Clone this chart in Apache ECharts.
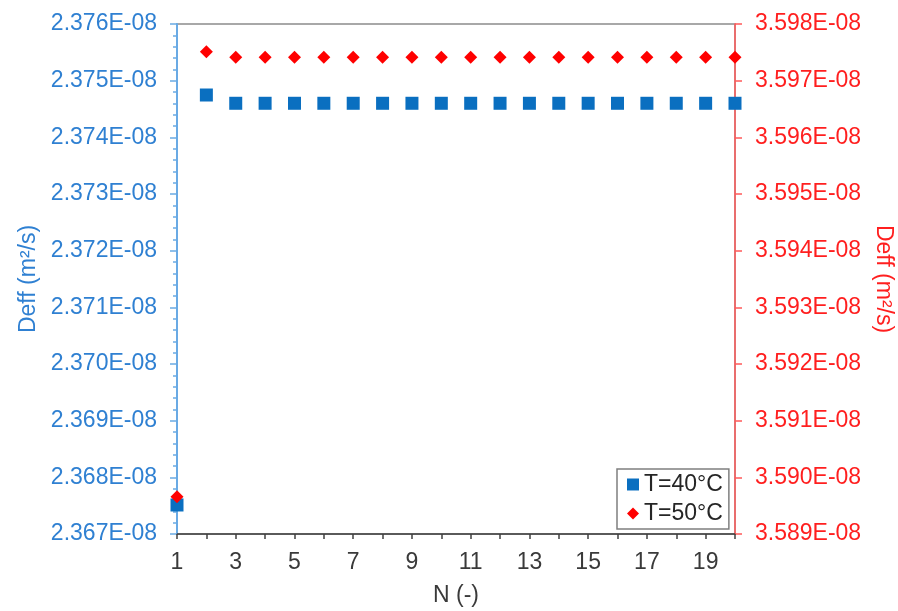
<!DOCTYPE html>
<html>
<head>
<meta charset="utf-8">
<script src="https://cdn.jsdelivr.net/npm/echarts@6/dist/echarts.min.js"></script>
<style>
  html, body { margin: 0; padding: 0; background: #ffffff; }
  #chart { width: 898px; height: 611px; }
</style>
</head>
<body>
<div id="chart"></div>
<script>
// Number of terms N in the series solution
const nTerms = [1, 2, 3, 4, 5, 6, 7, 8, 9, 10, 11, 12, 13, 14, 15, 16, 17, 18, 19, 20];

// Effective diffusivity (m²/s) at 40 °C (left axis)
const deff40 = [
  2.367512e-8, 2.374747e-8, 2.374601e-8, 2.374601e-8, 2.374601e-8,
  2.374601e-8, 2.374601e-8, 2.374601e-8, 2.374601e-8, 2.374601e-8,
  2.374601e-8, 2.374601e-8, 2.374601e-8, 2.374601e-8, 2.374601e-8,
  2.374601e-8, 2.374601e-8, 2.374601e-8, 2.374601e-8, 2.374601e-8
];

// Effective diffusivity (m²/s) at 50 °C (right axis)
const deff50 = [
  3.589659e-8, 3.597511e-8, 3.597412e-8, 3.597412e-8, 3.597412e-8,
  3.597412e-8, 3.597412e-8, 3.597412e-8, 3.597412e-8, 3.597412e-8,
  3.597412e-8, 3.597412e-8, 3.597412e-8, 3.597412e-8, 3.597412e-8,
  3.597412e-8, 3.597412e-8, 3.597412e-8, 3.597412e-8, 3.597412e-8
];

const seriesNames = ['T=40°C', 'T=50°C'];
const leftRange = [2.367e-8, 2.376e-8];
const rightRange = [3.589e-8, 3.598e-8];
const yStep = 1e-11;

// Excel-style scientific label, e.g. 2.376E-08
function sci(v) {
  const s = v.toExponential(3).toUpperCase();
  const [m, e] = s.split('E');
  const sign = e[0] === '-' ? '-' : '+';
  const digits = e.replace(/[-+]/, '').padStart(2, '0');
  return m + 'E' + sign + digits;
}

const font = '"Liberation Sans", Arial, sans-serif';
const fs = 23;
const blueText = '#2f80d2';
const blueLine = '#6aaae4';
const redText = '#ff1f1f';
const redLine = '#ff5a5a';
const grayText = '#3a3a3a';

const chart = echarts.init(document.getElementById('chart'), null, { renderer: 'canvas' });

chart.setOption({
  backgroundColor: '#ffffff',
  animation: false,
  textStyle: { fontFamily: font },
  grid: {
    left: 177, right: 163, top: 24, bottom: 77,
    outerBoundsMode: 'none',
    containLabel: false,
    show: true, borderColor: '#8c8c8c', borderWidth: 1.5, backgroundColor: 'transparent'
  },
  legend: {
    orient: 'vertical',
    left: 617, top: 469,
    padding: [4, 6, 4, 10],
    itemGap: 6,
    itemWidth: 12, itemHeight: 12,
    borderColor: '#7f7f7f', borderWidth: 1.5,
    backgroundColor: '#ffffff',
    textStyle: { fontFamily: font, fontSize: fs, color: '#262626' },
    data: [
      { name: seriesNames[0], icon: 'rect' },
      { name: seriesNames[1], icon: 'diamond' }
    ]
  },
  xAxis: {
    type: 'value',
    min: 1, max: 20, interval: 1,
    name: 'N (-)',
    nameLocation: 'middle',
    nameGap: 50,
    nameTextStyle: { fontFamily: font, fontSize: fs, color: grayText },
    axisLine: { show: true, onZero: false, lineStyle: { color: '#404040', width: 1.5 } },
    axisTick: { show: true, inside: false, length: 5, lineStyle: { color: '#404040', width: 1.5 } },
    axisLabel: {
      fontFamily: font, fontSize: fs, color: grayText, margin: 17,
      showMaxLabel: true,
      formatter: v => (v % 2 === 1 ? String(v) : '')
    },
    splitLine: { show: false }
  },
  yAxis: [
    {
      type: 'value',
      position: 'left',
      min: leftRange[0], max: leftRange[1], interval: yStep,
      name: 'Deff (m²/s)',
      nameLocation: 'middle',
      nameRotate: 90,
      nameGap: 137,
      nameTextStyle: { fontFamily: font, fontSize: fs, color: blueText },
      axisLine: { show: true, onZero: false, lineStyle: { color: blueLine, width: 2 } },
      axisTick: { show: true, inside: false, length: 7, lineStyle: { color: blueLine, width: 1.5 } },
      minorTick: { show: true, splitNumber: 5, length: 4, lineStyle: { color: blueLine, width: 1.5 } },
      axisLabel: { fontFamily: font, fontSize: fs, color: blueText, margin: 20, formatter: sci },
      splitLine: { show: false },
      minorSplitLine: { show: false }
    },
    {
      type: 'value',
      position: 'right',
      min: rightRange[0], max: rightRange[1], interval: yStep,
      name: 'Deff (m²/s)',
      nameLocation: 'middle',
      nameRotate: -90,
      nameGap: 136,
      nameTextStyle: { fontFamily: font, fontSize: fs, color: redText },
      axisLine: { show: true, onZero: false, lineStyle: { color: redLine, width: 1.5 } },
      axisTick: { show: true, inside: false, length: 7, lineStyle: { color: redLine, width: 1.5 } },
      axisLabel: { fontFamily: font, fontSize: fs, color: redText, margin: 20, formatter: sci },
      splitLine: { show: false }
    }
  ],
  series: [
    {
      name: seriesNames[0],
      type: 'scatter',
      yAxisIndex: 0,
      symbol: 'rect',
      symbolSize: 13,
      itemStyle: { color: '#0a6fc0', opacity: 1 },
      data: nTerms.map((n, i) => [n, deff40[i]]),
      z: 2
    },
    {
      name: seriesNames[1],
      type: 'scatter',
      yAxisIndex: 1,
      symbol: 'diamond',
      symbolSize: 13,
      itemStyle: { color: '#ff0000', opacity: 1 },
      data: nTerms.map((n, i) => [n, deff50[i]]),
      z: 3
    }
  ]
});
</script>
</body>
</html>
